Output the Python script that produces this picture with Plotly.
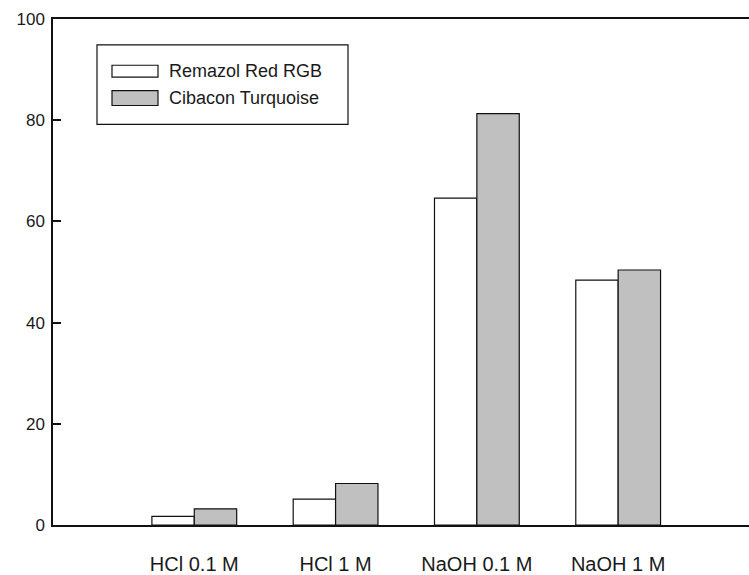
import plotly.graph_objects as go

categories = ["HCl 0.1 M", "HCl 1 M", "NaOH 0.1 M", "NaOH 1 M"]
series_names = ["Remazol Red RGB", "Cibacon Turquoise"]
remazol = [1.7, 5.1, 64.6, 48.4]
cibacon = [3.2, 8.2, 81.3, 50.4]
y_ticks = [0, 20, 40, 60, 80, 100]

W, H = 749, 575
ML, MR, MT, MB = 53, 0, 19, 47
PW, PH = W - ML - MR, H - MT - MB

def px_x(px):
    return (px - ML) / PW

def px_y(py):
    return (H - MB - py) / PH

FONT = "Liberation Sans, Arial, sans-serif"
fills = ["#ffffff", "#c0c0c0"]

fig = go.Figure()
for name, vals, fc in zip(series_names, [remazol, cibacon], fills):
    fig.add_trace(go.Bar(
        x=categories, y=vals, name=name,
        marker=dict(color=fc, line=dict(color="#111111", width=1.2)),
        showlegend=False,
    ))

# Custom legend (box + swatches + labels)
shapes = [
    dict(type="rect", xref="paper", yref="paper",
         x0=px_x(97), x1=px_x(348), y0=px_y(125), y1=px_y(45),
         line=dict(color="#111111", width=1.2), fillcolor="white", layer="above"),
    dict(type="rect", xref="paper", yref="paper",
         x0=px_x(112), x1=px_x(158), y0=px_y(77.5), y1=px_y(65.5),
         line=dict(color="#111111", width=1.2), fillcolor=fills[0], layer="above"),
    dict(type="rect", xref="paper", yref="paper",
         x0=px_x(112), x1=px_x(158), y0=px_y(106), y1=px_y(91),
         line=dict(color="#111111", width=1.2), fillcolor=fills[1], layer="above"),
]
annotations = [
    dict(xref="paper", yref="paper", x=px_x(167), y=px_y(71.5), text=series_names[0],
         showarrow=False, xanchor="left", yanchor="middle",
         font=dict(family=FONT, size=18, color="#1a1a1a")),
    dict(xref="paper", yref="paper", x=px_x(167), y=px_y(98.5), text=series_names[1],
         showarrow=False, xanchor="left", yanchor="middle",
         font=dict(family=FONT, size=18, color="#1a1a1a")),
]

fig.update_layout(
    width=W, height=H,
    margin=dict(l=ML, r=MR, t=MT, b=MB, pad=0),
    paper_bgcolor="white", plot_bgcolor="white",
    barmode="group", bargap=0.4, bargroupgap=0,
    shapes=shapes, annotations=annotations,
    font=dict(family=FONT, color="#1a1a1a"),
    xaxis=dict(
        type="category", range=[-1.0, 3.926],
        showline=True, linecolor="#111111", linewidth=2, mirror=True,
        showgrid=False, zeroline=False,
        ticks="outside", ticklen=20, tickcolor="rgba(0,0,0,0)",
        tickfont=dict(family=FONT, size=20, color="#1a1a1a"),
    ),
    yaxis=dict(
        range=[0, 100], tickvals=y_ticks,
        showline=True, linecolor="#111111", linewidth=1.5,
        showgrid=False, zeroline=False,
        ticks="inside", ticklen=8, tickwidth=1.5, tickcolor="#111111",
        tickfont=dict(family=FONT, size=17, color="#1a1a1a"),
        ticklabelstandoff=3,
    ),
)

fig.write_html(
    "out.html",
    config={"displayModeBar": False},
    post_script="document.body.style.margin='0';document.body.style.padding='0';document.body.style.overflow='hidden';",
)
